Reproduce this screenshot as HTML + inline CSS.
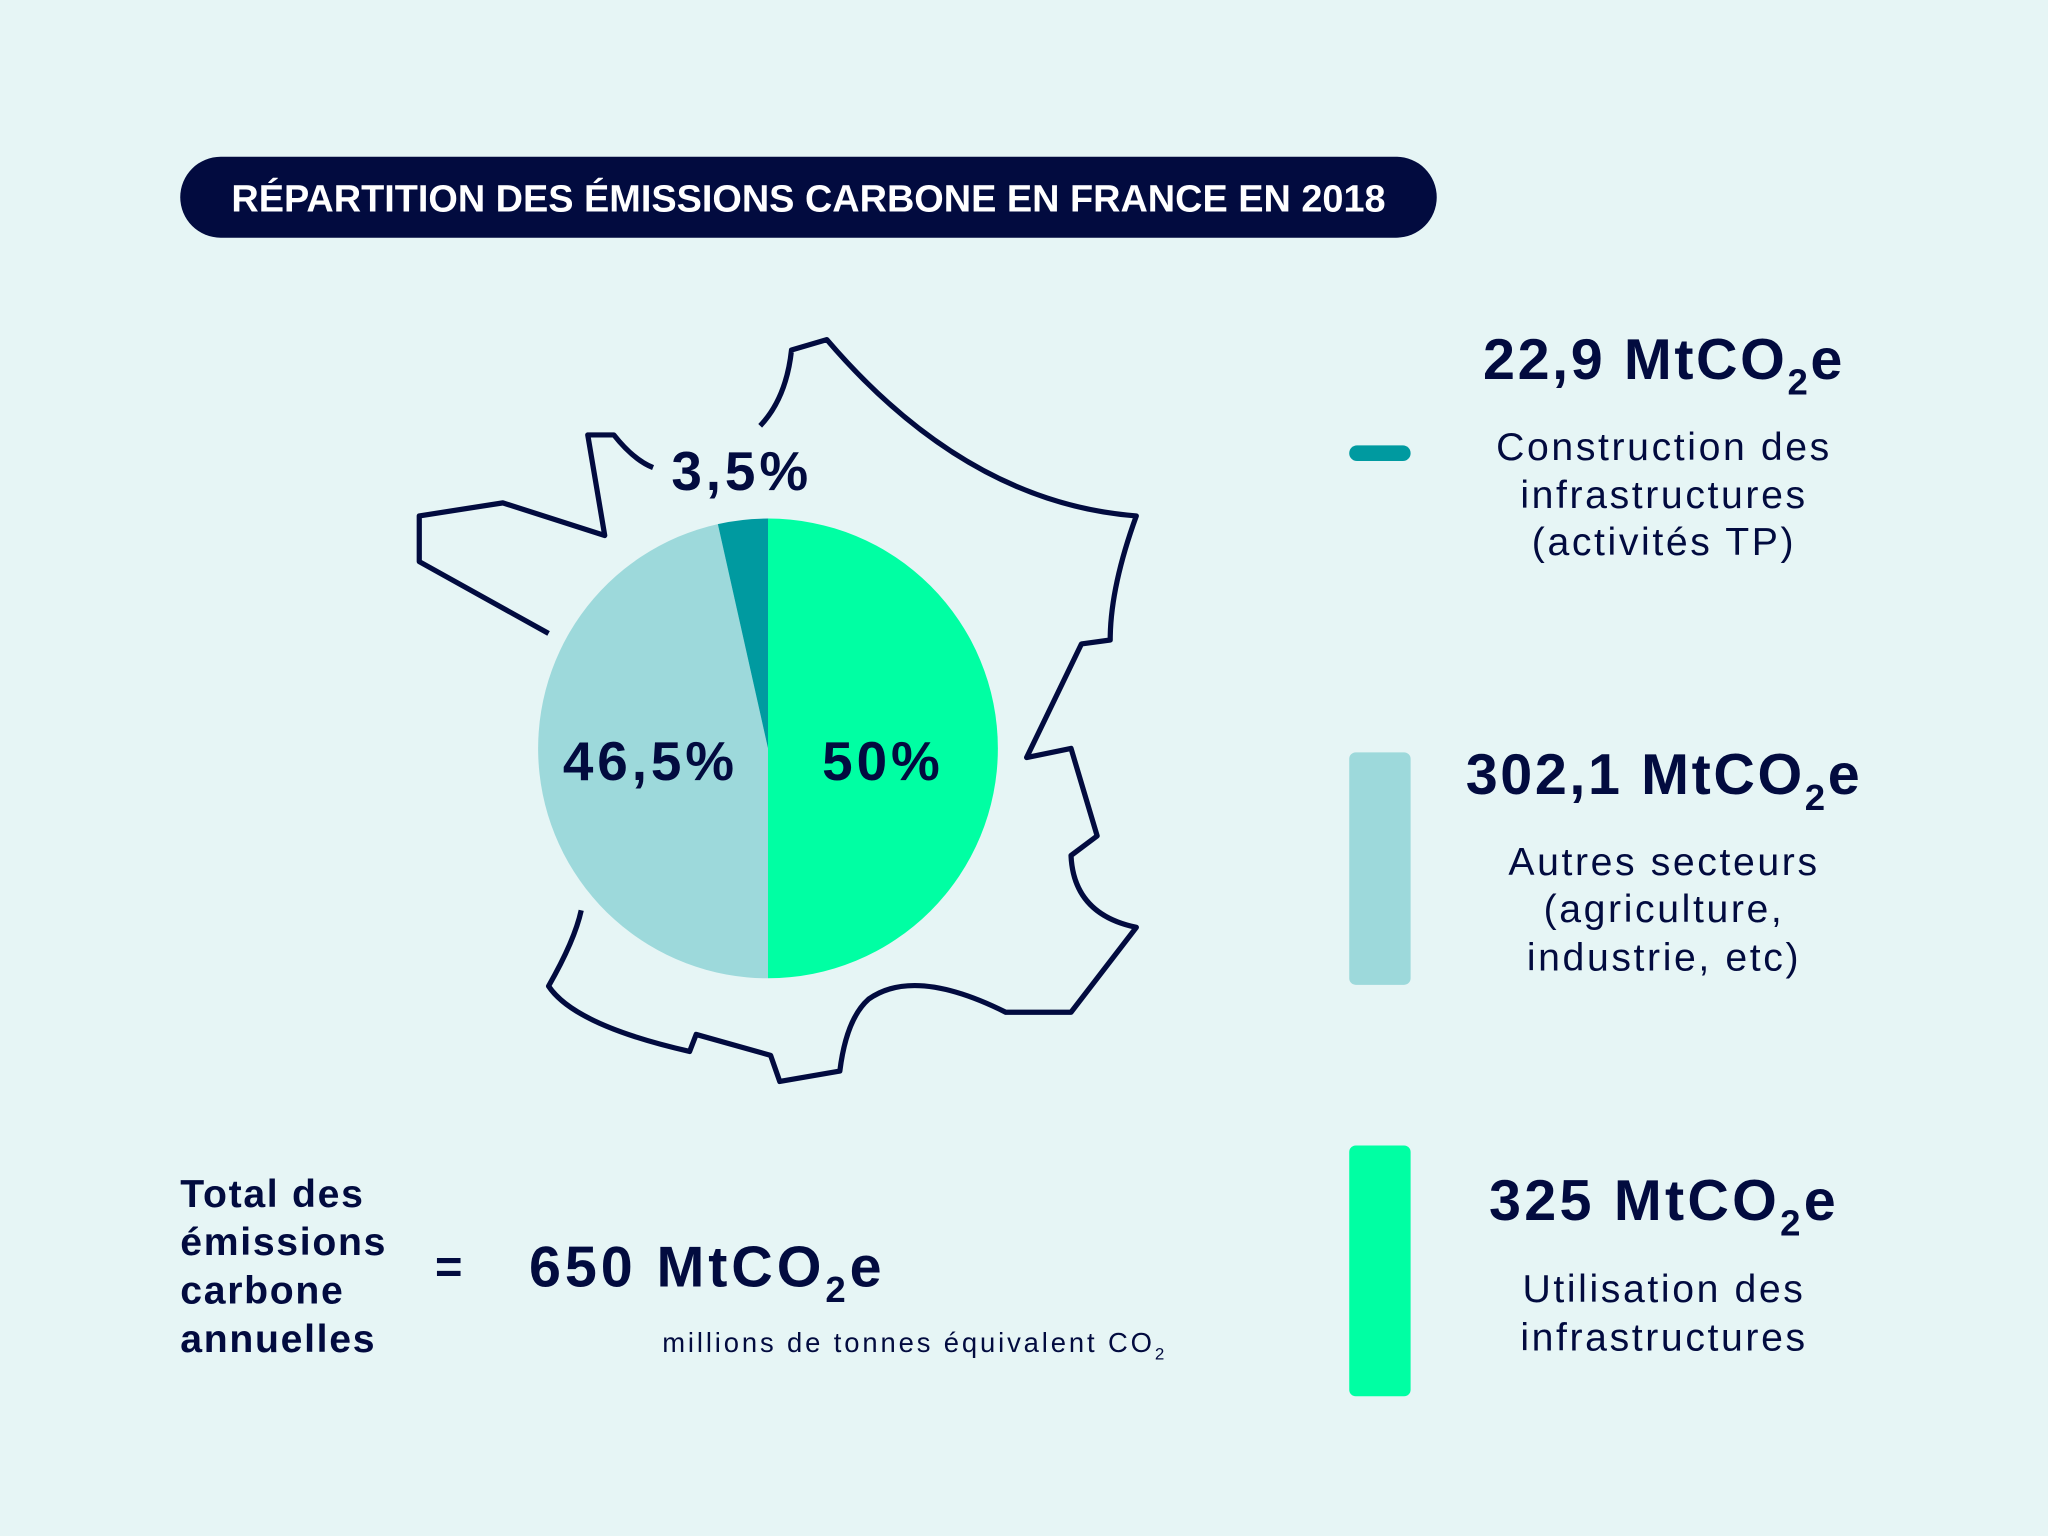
<!DOCTYPE html>
<html><head><meta charset="utf-8"><style>
html,body{margin:0;padding:0;background:#e6f5f5;}
svg{display:block;font-family:"Liberation Sans",sans-serif;}
</style></head><body>
<svg id="chart" width="2048" height="1536" viewBox="0 0 1568 1176" xmlns="http://www.w3.org/2000/svg">
<rect width="1568" height="1176" fill="#e6f5f5"/>
<g>
<rect x="138" y="120" width="962" height="62" rx="31" fill="#020b3f"/>
<text x="619" y="162" text-anchor="middle" fill="#fff" font-size="29" font-weight="bold">RÉPARTITION DES ÉMISSIONS CARBONE EN FRANCE EN 2018</text>
</g>
<path fill="none" stroke="#020b3f" stroke-width="4" stroke-linejoin="round"
d="M582,326 Q602,305 606,268 L633,260 Q740,385 870,395 Q850,450 850,490 L828,493 L786,580 L820,573 L840,640 L820,655 Q822,700 870,710 L820,775 L770,775 Q700,740 665,765 Q648,780 643,820 L597,828 L590,808 L533,792 L528,805 Q440,785 420,755 Q440,720 445,697 M420,485 L321,430 L321,395 L385,385 L463,410 L450,333 L470,333 Q485,352 500,358"/>
<g id="pie"></g>
<g font-weight="bold" fill="#020b3f" font-size="42" letter-spacing="3">
<text x="514" y="375">3,5%</text>
<text x="498" y="597" text-anchor="middle">46,5%</text>
<text x="676" y="597" text-anchor="middle">50%</text>
</g>
<g fill="#020b3f" text-anchor="middle">
<rect x="1033" y="341" width="47" height="12" rx="6" fill="#009aa0"/>
<text x="1274" y="290" font-size="44" font-weight="bold" letter-spacing="2">22,9 MtCO<tspan font-size="28" dy="12">2</tspan><tspan dy="-12">e</tspan></text>
<text font-size="30" letter-spacing="2"><tspan x="1274" y="352">Construction des</tspan><tspan x="1274" y="389">infrastructures</tspan><tspan x="1274" y="425">(activités TP)</tspan></text>
<rect x="1033" y="576" width="47" height="178" rx="5" fill="#9dd9db"/>
<text x="1274" y="608" font-size="44" font-weight="bold" letter-spacing="2">302,1 MtCO<tspan font-size="28" dy="12">2</tspan><tspan dy="-12">e</tspan></text>
<text font-size="30" letter-spacing="2"><tspan x="1274" y="670">Autres secteurs</tspan><tspan x="1274" y="706">(agriculture,</tspan><tspan x="1274" y="743">industrie, etc)</tspan></text>
<rect x="1033" y="877" width="47" height="192" rx="5" fill="#00ffa3"/>
<text x="1274" y="934" font-size="44" font-weight="bold" letter-spacing="2.5">325 MtCO<tspan font-size="28" dy="12">2</tspan><tspan dy="-12">e</tspan></text>
<text font-size="30" letter-spacing="2"><tspan x="1274" y="997">Utilisation des</tspan><tspan x="1274" y="1034">infrastructures</tspan></text>
</g>
<g fill="#020b3f">
<text font-size="30" font-weight="bold" letter-spacing="1.3"><tspan x="138" y="924">Total des</tspan><tspan x="138" y="961">émissions</tspan><tspan x="138" y="998">carbone</tspan><tspan x="138" y="1035">annuelles</tspan></text>
<text x="333" y="982" font-size="36" font-weight="bold">=</text>
<text x="405" y="985" font-size="44" font-weight="bold" letter-spacing="3">650 MtCO<tspan font-size="28" dy="12">2</tspan><tspan dy="-12">e</tspan></text>
<text x="507" y="1035" font-size="21" letter-spacing="2.2">millions de tonnes équivalent CO<tspan font-size="13" dy="6">2</tspan></text>
</g>
<script>
const categories = ["Utilisation", "Autres secteurs", "Construction"];
const shares = [50, 46.5, 3.5];
const colors = ["#00ffa3", "#9dd9db", "#009aa0"];
const cx = 588, cy = 573, r = 176;
const g = document.getElementById('pie');
const total = shares.reduce((a,b)=>a+b,0);
let acc = 0;
function pt(f){const a=f*2*Math.PI-Math.PI/2;return [cx+r*Math.cos(a), cy+r*Math.sin(a)];}
shares.forEach((v,i)=>{
  const s=acc/total, e=(acc+v)/total; acc+=v;
  const p0=pt(s), p1=pt(e), large=(e-s)>0.5?1:0;
  const p=document.createElementNS('http://www.w3.org/2000/svg','path');
  p.setAttribute('d',`M${cx},${cy} L${p0[0]},${p0[1]} A${r},${r} 0 ${large} 1 ${p1[0]},${p1[1]} Z`);
  p.setAttribute('fill',colors[i]);
  
  
  g.appendChild(p);
});
</script>
</svg>
</body></html>
